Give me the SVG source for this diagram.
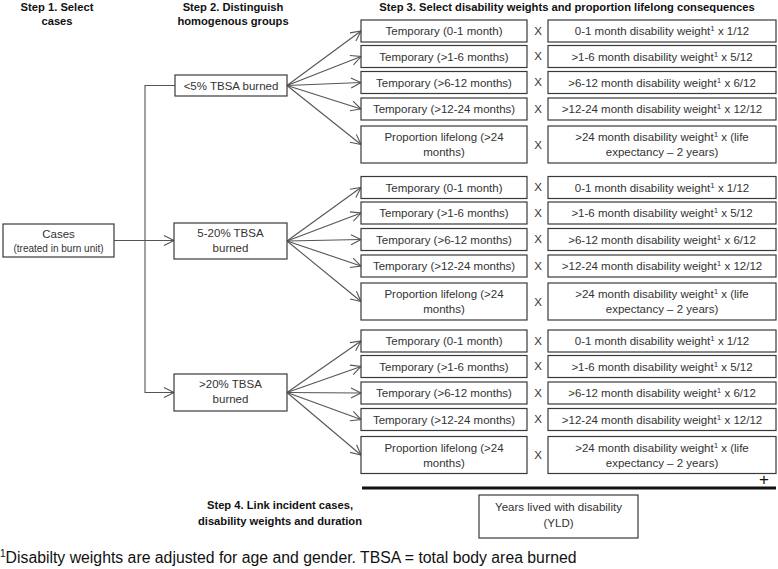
<svg xmlns="http://www.w3.org/2000/svg" width="778" height="569" viewBox="0 0 778 569">
<defs>
<marker id="arr" markerUnits="userSpaceOnUse" markerWidth="12" markerHeight="12" refX="10" refY="5" orient="auto" overflow="visible">
<path d="M0,0 L10,5 L0,10" fill="none" stroke="#555" stroke-width="1.1"/>
</marker>
<style>
.bx{fill:#fff;stroke:#3a3a3a;stroke-width:1.2}
.t{font-family:"Liberation Sans",Arial,sans-serif;font-size:11.5px;fill:#333;text-anchor:middle}
.s{font-family:"Liberation Sans",Arial,sans-serif;font-size:10px;fill:#333;text-anchor:middle}
.h{font-family:"Liberation Sans",Arial,sans-serif;font-size:11.2px;font-weight:bold;fill:#111;text-anchor:middle}
.x{font-family:"Liberation Sans",Arial,sans-serif;font-size:11.5px;fill:#333;text-anchor:middle}
.sup{font-size:8px}
.c{fill:none;stroke:#555;stroke-width:1.1}
</style>
</defs>
<rect width="778" height="569" fill="#fff"/>

<g id="titles">
<text class="h" x="57" y="11">Step 1. Select</text>
<text class="h" x="57" y="25">cases</text>
<text class="h" x="233" y="11">Step 2. Distinguish</text>
<text class="h" x="233" y="25">homogenous groups</text>
<text class="h" x="567" y="11">Step 3. Select disability weights and proportion lifelong consequences</text>
<text class="h" x="280" y="509">Step 4. Link incident cases,</text>
<text class="h" x="280" y="525">disability weights and duration</text>
</g>

<g id="connectors">
<line class="c" x1="114" y1="240.5" x2="174" y2="240.5" marker-end="url(#arr)"/>
<polyline class="c" points="175,85.5 145,85.5 145,392.5 174,392.5" marker-end="url(#arr)"/>
<line class="c" x1="287" y1="85.5" x2="361" y2="31" marker-end="url(#arr)"/>
<line class="c" x1="287" y1="85.5" x2="361" y2="56.5" marker-end="url(#arr)"/>
<line class="c" x1="287" y1="85.5" x2="361" y2="82.5" marker-end="url(#arr)"/>
<line class="c" x1="287" y1="85.5" x2="361" y2="109" marker-end="url(#arr)"/>
<line class="c" x1="287" y1="85.5" x2="361" y2="144.5" marker-end="url(#arr)"/>
<line class="c" x1="287" y1="241" x2="361" y2="187.5" marker-end="url(#arr)"/>
<line class="c" x1="287" y1="241" x2="361" y2="213" marker-end="url(#arr)"/>
<line class="c" x1="287" y1="241" x2="361" y2="239.5" marker-end="url(#arr)"/>
<line class="c" x1="287" y1="241" x2="361" y2="266" marker-end="url(#arr)"/>
<line class="c" x1="287" y1="241" x2="361" y2="301.5" marker-end="url(#arr)"/>
<line class="c" x1="287" y1="392.5" x2="361" y2="341" marker-end="url(#arr)"/>
<line class="c" x1="287" y1="392.5" x2="361" y2="366.5" marker-end="url(#arr)"/>
<line class="c" x1="287" y1="392.5" x2="361" y2="393" marker-end="url(#arr)"/>
<line class="c" x1="287" y1="392.5" x2="361" y2="419.5" marker-end="url(#arr)"/>
<line class="c" x1="287" y1="392.5" x2="361" y2="455" marker-end="url(#arr)"/>
<line x1="362" y1="488" x2="776" y2="488" stroke="#111" stroke-width="3"/>
</g>

<g id="cases"><rect class="bx" x="3" y="224" width="111" height="33"/>
<text class="t" x="58.5" y="238">Cases</text><text class="s" x="58.5" y="252">(treated in burn unit)</text></g>

<g id="grp1"><rect class="bx" x="175" y="75" width="112" height="21"/><text class="t" x="231" y="90">&lt;5% TBSA burned</text></g>
<g id="grp2"><rect class="bx" x="174" y="223" width="113" height="36"/><text class="t" x="230.5" y="237">5-20% TBSA</text><text class="t" x="230.5" y="252">burned</text></g>
<g id="grp3"><rect class="bx" x="174" y="374" width="113" height="37"/><text class="t" x="230.5" y="388">&gt;20% TBSA</text><text class="t" x="230.5" y="403">burned</text></g>

<g id="g1r1"><rect class="bx" x="361" y="20" width="166" height="22"/><text class="t" x="444" y="35">Temporary (0-1 month)</text></g>
<g id="g1w1"><rect class="bx" x="548" y="20" width="228" height="22"/><text class="t" x="662" y="35">0-1 month  disability weight<tspan class="sup" dy="-4">1</tspan><tspan dy="4"> x 1/12</tspan></text></g>
<g id="g1r2"><rect class="bx" x="361" y="45.5" width="166" height="22"/><text class="t" x="444" y="60.5">Temporary (&gt;1-6 months)</text></g>
<g id="g1w2"><rect class="bx" x="548" y="45.5" width="228" height="22"/><text class="t" x="662" y="60.5">&gt;1-6 month  disability weight<tspan class="sup" dy="-4">1</tspan><tspan dy="4"> x 5/12</tspan></text></g>
<g id="g1r3"><rect class="bx" x="361" y="71.5" width="166" height="22"/><text class="t" x="444" y="86.5">Temporary (&gt;6-12 months)</text></g>
<g id="g1w3"><rect class="bx" x="548" y="71.5" width="228" height="22"/><text class="t" x="662" y="86.5">&gt;6-12 month  disability weight<tspan class="sup" dy="-4">1</tspan><tspan dy="4"> x 6/12</tspan></text></g>
<g id="g1r4"><rect class="bx" x="361" y="98" width="166" height="22"/><text class="t" x="444" y="113">Temporary (&gt;12-24 months)</text></g>
<g id="g1w4"><rect class="bx" x="548" y="98" width="228" height="22"/><text class="t" x="662" y="113">&gt;12-24 month  disability weight<tspan class="sup" dy="-4">1</tspan><tspan dy="4"> x 12/12</tspan></text></g>
<g id="g1r5"><rect class="bx" x="361" y="126" width="166" height="37"/><text class="t" x="444" y="141">Proportion  lifelong (&gt;24</text><text class="t" x="444" y="156">months)</text></g>
<g id="g1w5"><rect class="bx" x="548" y="126" width="228" height="37"/><text class="t" x="662" y="141">&gt;24 month  disability weight<tspan class="sup" dy="-4">1</tspan><tspan dy="4"> x (life</tspan></text><text class="t" x="662" y="156">expectancy – 2 years)</text></g>

<g id="g2r1"><rect class="bx" x="361" y="176.5" width="166" height="22"/><text class="t" x="444" y="191.5">Temporary (0-1 month)</text></g>
<g id="g2w1"><rect class="bx" x="548" y="176.5" width="228" height="22"/><text class="t" x="662" y="191.5">0-1 month  disability weight<tspan class="sup" dy="-4">1</tspan><tspan dy="4"> x 1/12</tspan></text></g>
<g id="g2r2"><rect class="bx" x="361" y="202" width="166" height="22"/><text class="t" x="444" y="217">Temporary (&gt;1-6 months)</text></g>
<g id="g2w2"><rect class="bx" x="548" y="202" width="228" height="22"/><text class="t" x="662" y="217">&gt;1-6 month  disability weight<tspan class="sup" dy="-4">1</tspan><tspan dy="4"> x 5/12</tspan></text></g>
<g id="g2r3"><rect class="bx" x="361" y="228.5" width="166" height="22"/><text class="t" x="444" y="243.5">Temporary (&gt;6-12 months)</text></g>
<g id="g2w3"><rect class="bx" x="548" y="228.5" width="228" height="22"/><text class="t" x="662" y="243.5">&gt;6-12 month  disability weight<tspan class="sup" dy="-4">1</tspan><tspan dy="4"> x 6/12</tspan></text></g>
<g id="g2r4"><rect class="bx" x="361" y="255" width="166" height="22"/><text class="t" x="444" y="270">Temporary (&gt;12-24 months)</text></g>
<g id="g2w4"><rect class="bx" x="548" y="255" width="228" height="22"/><text class="t" x="662" y="270">&gt;12-24 month  disability weight<tspan class="sup" dy="-4">1</tspan><tspan dy="4"> x 12/12</tspan></text></g>
<g id="g2r5"><rect class="bx" x="361" y="283" width="166" height="37"/><text class="t" x="444" y="298">Proportion  lifelong (&gt;24</text><text class="t" x="444" y="313">months)</text></g>
<g id="g2w5"><rect class="bx" x="548" y="283" width="228" height="37"/><text class="t" x="662" y="298">&gt;24 month  disability weight<tspan class="sup" dy="-4">1</tspan><tspan dy="4"> x (life</tspan></text><text class="t" x="662" y="313">expectancy – 2 years)</text></g>

<g id="g3r1"><rect class="bx" x="361" y="330" width="166" height="22"/><text class="t" x="444" y="345">Temporary (0-1 month)</text></g>
<g id="g3w1"><rect class="bx" x="548" y="330" width="228" height="22"/><text class="t" x="662" y="345">0-1 month  disability weight<tspan class="sup" dy="-4">1</tspan><tspan dy="4"> x 1/12</tspan></text></g>
<g id="g3r2"><rect class="bx" x="361" y="355.5" width="166" height="22"/><text class="t" x="444" y="370.5">Temporary (&gt;1-6 months)</text></g>
<g id="g3w2"><rect class="bx" x="548" y="355.5" width="228" height="22"/><text class="t" x="662" y="370.5">&gt;1-6 month  disability weight<tspan class="sup" dy="-4">1</tspan><tspan dy="4"> x 5/12</tspan></text></g>
<g id="g3r3"><rect class="bx" x="361" y="382" width="166" height="22"/><text class="t" x="444" y="397">Temporary (&gt;6-12 months)</text></g>
<g id="g3w3"><rect class="bx" x="548" y="382" width="228" height="22"/><text class="t" x="662" y="397">&gt;6-12 month  disability weight<tspan class="sup" dy="-4">1</tspan><tspan dy="4"> x 6/12</tspan></text></g>
<g id="g3r4"><rect class="bx" x="361" y="408.5" width="166" height="22"/><text class="t" x="444" y="423.5">Temporary (&gt;12-24 months)</text></g>
<g id="g3w4"><rect class="bx" x="548" y="408.5" width="228" height="22"/><text class="t" x="662" y="423.5">&gt;12-24 month  disability weight<tspan class="sup" dy="-4">1</tspan><tspan dy="4"> x 12/12</tspan></text></g>
<g id="g3r5"><rect class="bx" x="361" y="436.5" width="166" height="37"/><text class="t" x="444" y="451.5">Proportion  lifelong (&gt;24</text><text class="t" x="444" y="466.5">months)</text></g>
<g id="g3w5"><rect class="bx" x="548" y="436.5" width="228" height="37"/><text class="t" x="662" y="451.5">&gt;24 month  disability weight<tspan class="sup" dy="-4">1</tspan><tspan dy="4"> x (life</tspan></text><text class="t" x="662" y="466.5">expectancy – 2 years)</text></g>

<g id="times">
<text class="x" x="538" y="35">X</text><text class="x" x="538" y="60">X</text><text class="x" x="538" y="86">X</text><text class="x" x="538" y="113">X</text><text class="x" x="538" y="149">X</text>
<text class="x" x="538" y="191">X</text><text class="x" x="538" y="217">X</text><text class="x" x="538" y="243">X</text><text class="x" x="538" y="270">X</text><text class="x" x="538" y="306">X</text>
<text class="x" x="538" y="345">X</text><text class="x" x="538" y="370">X</text><text class="x" x="538" y="397">X</text><text class="x" x="538" y="423">X</text><text class="x" x="538" y="459">X</text>
</g>
<text x="764" y="485" font-family="Liberation Sans, Arial, sans-serif" font-size="17" fill="#111" text-anchor="middle">+</text>

<g id="yld"><rect class="bx" x="479" y="495" width="159" height="43"/>
<text class="t" x="558.5" y="511">Years lived with disability</text><text class="t" x="558.5" y="527">(YLD)</text></g>

<text x="0" y="563" font-family="Liberation Sans, Arial, sans-serif" font-size="15.8" fill="#111"><tspan font-size="10" dy="-6">1</tspan><tspan dy="6">Disabilty weights are adjusted for age and gender. TBSA = total body area burned</tspan></text>
</svg>
